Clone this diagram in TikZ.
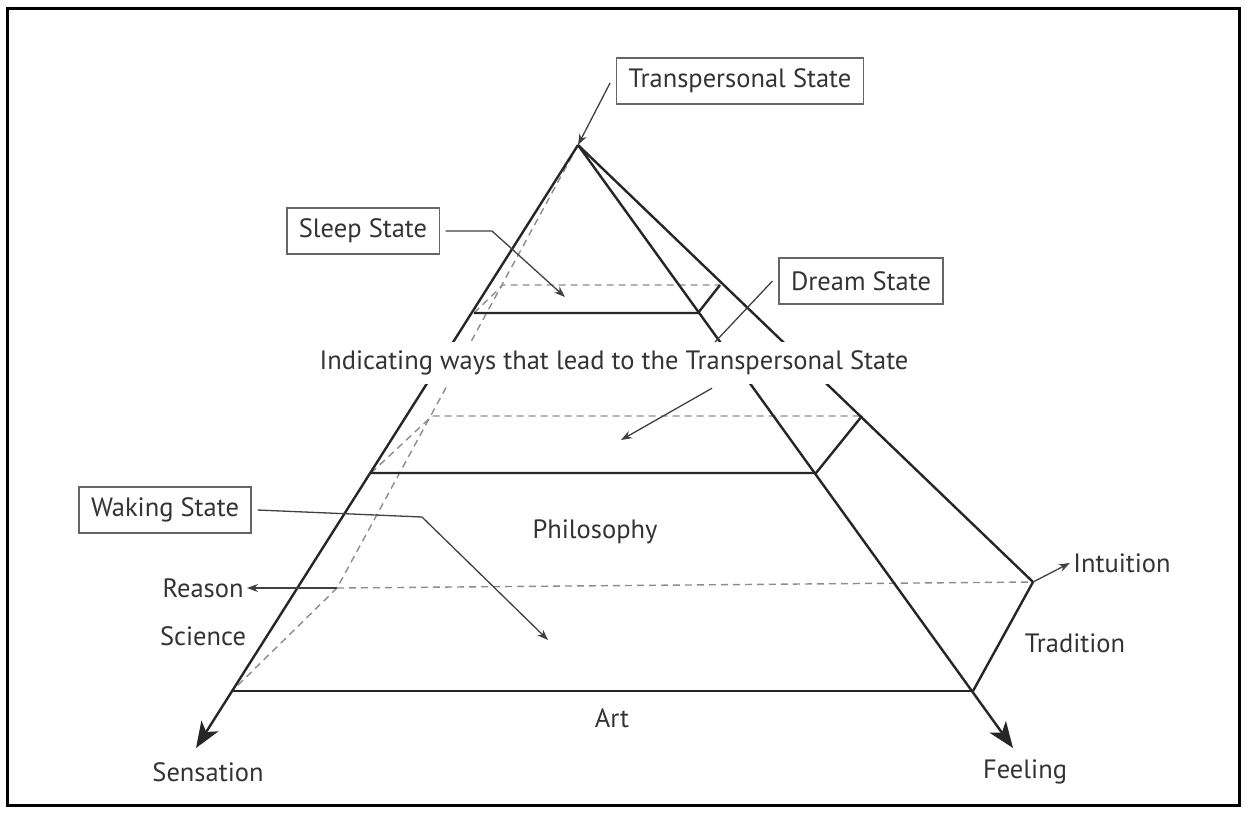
\documentclass[tikz,border=0pt]{standalone}
\usepackage{fontspec}
\setmainfont{PT Sans}
\usetikzlibrary{arrows.meta}

\begin{document}
\begin{tikzpicture}[x=1pt,y=-1pt,font=\fontsize{26.5}{30}\selectfont,text=black!80,
  edge/.style={line width=2.4pt,draw=black!85},
  hidden/.style={line width=1.4pt,draw=black!45,dash pattern=on 7pt off 5pt},
  pointer/.style={line width=1.3pt,draw=black!75,-{Stealth[length=11pt,width=8pt]}},
  leader/.style={line width=1.3pt,draw=black!75},
  axis/.style={edge,-{Stealth[length=26pt,width=20pt,inset=7pt]}},
  statebox/.style={draw=black!60,line width=1.2pt,inner xsep=12pt,minimum height=46pt}]

\useasboundingbox (0,0) rectangle (1246,812);
\draw[line width=3pt] (7,8) rectangle (1239,805);

% pyramid corners
\coordinate (apex) at (578,145);
\coordinate (fl)   at (232,691);
\coordinate (fr)   at (973,691);
\coordinate (br)   at (1033,582);
\coordinate (bl)   at (337,588);
\coordinate (stip) at (196,748);
\coordinate (ftip) at (1013,748);

% layers
\coordinate (sfl) at (474,313);  \coordinate (sfr) at (698,313);
\coordinate (sbl) at (503,285);  \coordinate (sbr) at (720,285);
\coordinate (mfl) at (371,473);  \coordinate (mfr) at (816,473);
\coordinate (mbl) at (432,416);  \coordinate (mbr) at (862,416);

% pointer ends
\coordinate (sleepbend) at (492,231);  \coordinate (sleeptip) at (565,297);
\coordinate (dreamend)  at (715,342);
\coordinate (waystip)   at (621,440);
\coordinate (wakebend)  at (422,517);  \coordinate (waketip)  at (548,640);

\draw[hidden] (apex) -- (bl) -- (fl);
\draw[hidden] (bl) -- (br);
\draw[hidden] (sfl) -- (sbl) -- (sbr);
\draw[hidden] (mfl) -- (mbl) -- (mbr);

\draw[axis] (apex) -- (stip);
\draw[axis] (apex) -- (ftip);
\draw[edge] (apex) -- (br) -- (fr);
\draw[edge] (fl) -- (fr);
\draw[edge] (sfl) -- (sfr) -- (sbr);
\draw[edge] (mfl) -- (mfr) -- (mbr);

\node[statebox] (trans)  at (740,81)  {Transpersonal State};
\node[statebox] (sleep)  at (363,231) {Sleep State};
\node[statebox] (dream)  at (861,281) {Dream State};
\node[statebox] (waking) at (165,510) {Waking State};
\node[fill=white,inner xsep=2pt,inner ysep=6pt,minimum height=42pt] (ways) at (614,363)
  {Indicating ways that lead to the Transpersonal State};

\node (philo)     at (595,532)  {Philosophy};
\node (reason)    at (203,588)  {Reason};
\node (science)   at (203,636)  {Science};
\node (intuition) at (1122,563) {Intuition};
\node (tradition) at (1075,643) {Tradition};
\node (art)       at (612,718)  {Art};
\node (sensation) at (208,772)  {Sensation};
\node (feeling)   at (1025,772) {Feeling};

\draw[pointer] ([xshift=-6pt,yshift=-2pt]trans.west) -- (apex);
\draw[pointer] ([xshift=6pt]sleep.east) -- (sleepbend) -- (sleeptip);
\draw[leader]  ([xshift=-6pt]dream.west) -- (dreamend);
\draw[pointer] ([xshift=98pt,yshift=-4pt]ways.south) -- (waystip);
\draw[pointer] ([xshift=6pt]waking.east) -- (wakebend) -- (waketip);
\draw[pointer] (bl) -- (reason.east);
\draw[pointer] (br) -- (intuition.west);
\end{tikzpicture}
\end{document}
